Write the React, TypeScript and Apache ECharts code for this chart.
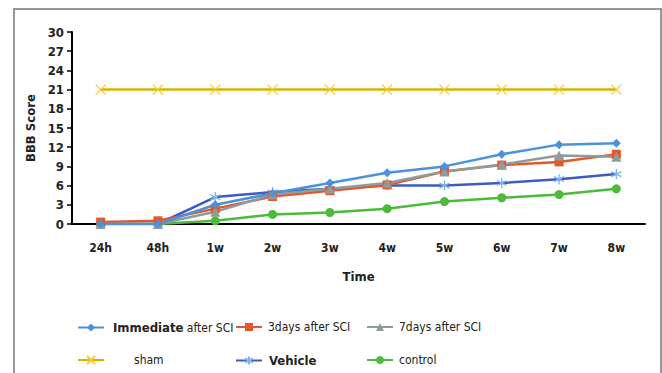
import React, { useEffect, useRef } from "react";
import * as echarts from "echarts";

const categories = ["24h", "48h", "1w", "2w", "3w", "4w", "5w", "6w", "7w", "8w"];
const immediate = [0, 0, 3.0, 4.8, 6.4, 8.0, 9.0, 10.9, 12.4, 12.6];
const days3 = [0.3, 0.5, 2.4, 4.3, 5.2, 6.1, 8.2, 9.2, 9.7, 10.9];
const days7 = [0, 0, 1.9, 4.6, 5.5, 6.4, 8.2, 9.3, 10.7, 10.5];
const sham = [21, 21, 21, 21, 21, 21, 21, 21, 21, 21];
const vehicle = [0, 0, 4.2, 5.0, 5.5, 6.0, 6.0, 6.4, 7.0, 7.8];
const control = [0, 0, 0.5, 1.5, 1.8, 2.4, 3.5, 4.1, 4.6, 5.5];
const yTicks = { min: 0, max: 30, interval: 3 };

const FONT = "'DejaVu Sans Condensed', 'Liberation Sans Narrow', sans-serif";

export default function App() {
  const ref = useRef<HTMLDivElement>(null);
  useEffect(() => {
    document.body.style.margin = "0";
    const chart = echarts.init(ref.current!, null, { renderer: "svg" });
    const xSym = "path://M0,0L10,10M10,0L0,10";
    const astSym = "path://M5,0L5,10M0.7,2.5L9.3,7.5M0.7,7.5L9.3,2.5";
    const mk = (name: string, data: number[], color: string, symbol: string, size: number, extra: any = {}) => ({
      name,
      type: "line",
      data,
      symbol,
      symbolSize: size,
      showSymbol: true,
      lineStyle: { color, width: 2.5 },
      itemStyle: { color },
      ...extra,
    });
    const legendBase = (name: string, left: number, top: number, formatter?: string, textPad = 8) => ({
      data: [name],
      left,
      top,
      padding: 0,
      itemWidth: 26,
      itemHeight: 10,
      formatter: formatter || "{name}",
      textStyle: {
        fontFamily: FONT,
        fontSize: 12,
        color: "#222",
        padding: [0, 0, 0, textPad],
        rich: {
          b: { fontFamily: FONT, fontSize: 13, fontWeight: "bold", color: "#222" },
          s: { fontFamily: FONT, fontSize: 12, color: "#222" },
        },
      },
    });
    chart.setOption({
      animation: false,
      backgroundColor: "#fff",
      grid: { left: 72, top: 32, right: 17, bottom: 149 },
      graphic: [
        {
          type: "rect",
          shape: { x: 14, y: 9, width: 647, height: 400 },
          style: { fill: "none", stroke: "#777", lineWidth: 1.5 },
          silent: true,
        },
      ],
      legend: [
        legendBase("Immediate after SCI", 77, 321, "{b|Immediate}{s| after SCI}", 4),
        legendBase("3days after SCI", 235, 321, undefined, 1),
        legendBase("7days after SCI", 366, 321, undefined, 1),
        legendBase("sham", 77, 354, undefined, 25),
        legendBase("Vehicle", 235, 354, "{b|Vehicle}", 2),
        legendBase("control", 366, 354, undefined, 1),
      ],
      xAxis: {
        type: "category",
        data: categories,
        boundaryGap: true,
        name: "Time",
        nameLocation: "middle",
        nameGap: 46,
        nameTextStyle: { fontFamily: FONT, fontSize: 13, fontWeight: "bold", color: "#222" },
        axisLine: { lineStyle: { color: "#000", width: 2 } },
        axisTick: { alignWithLabel: true, length: 5, lineStyle: { color: "#000", width: 1.5 } },
        axisLabel: { fontFamily: FONT, fontSize: 12, fontWeight: "bold", color: "#222", margin: 18 },
      },
      yAxis: {
        type: "value",
        min: yTicks.min,
        max: yTicks.max,
        interval: yTicks.interval,
        name: "BBB Score",
        nameLocation: "middle",
        nameGap: 32,
        nameTextStyle: { fontFamily: FONT, fontSize: 13, fontWeight: "bold", color: "#222" },
        axisLine: { show: true, lineStyle: { color: "#000", width: 2 } },
        axisTick: { show: true, length: 5, lineStyle: { color: "#000", width: 1.5 } },
        axisLabel: { fontFamily: FONT, fontSize: 13, fontWeight: "bold", color: "#222", margin: 8 },
        splitLine: { show: false },
      },
      series: [
        mk("sham", sham, "#E0B000", xSym, 10, {
          itemStyle: { color: "#F3CF2A", borderColor: "#F3CF2A", borderWidth: 1.3 },
        }),
        mk("control", control, "#4DBA3C", "circle", 9),
        mk("Vehicle", vehicle, "#3D5BC0", astSym, 10, {
          itemStyle: { color: "#7FB2F0", borderColor: "#7FB2F0", borderWidth: 1.3 },
        }),
        mk("3days after SCI", days3, "#E4572B", "rect", 9),
        mk("7days after SCI", days7, "#8E9C9C", "triangle", 10),
        mk("Immediate after SCI", immediate, "#4A92DC", "diamond", 9),
      ],
    });
    return () => chart.dispose();
  }, []);
  return <div ref={ref} style={{ width: 662, height: 373 }} />;
}
